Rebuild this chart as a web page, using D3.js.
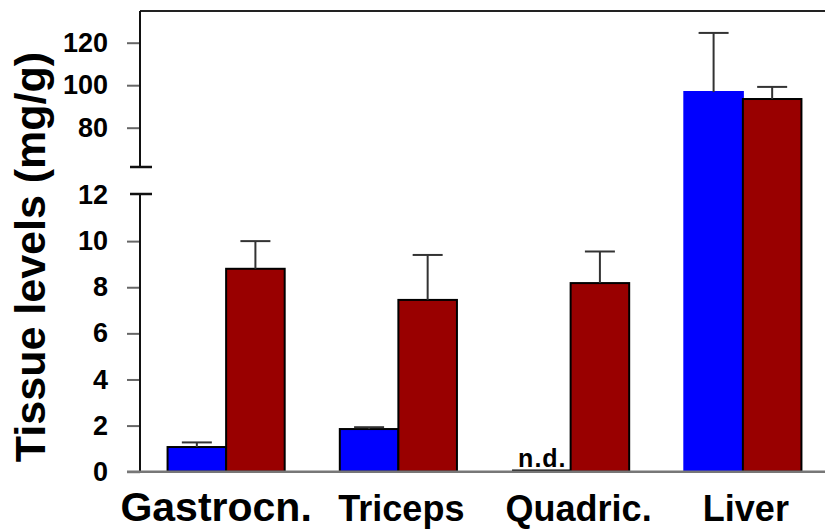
<!DOCTYPE html>
<html>
<head>
<meta charset="utf-8">
<script src="https://cdn.jsdelivr.net/npm/d3@7"></script>
<style>
  body { margin: 0; background: #fff; }
  svg { display: block; font-family: "Liberation Sans", Arial, sans-serif; }
</style>
</head>
<body>
<div id="chart"></div>
<script>
// tissue levels, two groups, broken y axis
const tissues = ['Gastrocn.', 'Triceps', 'Quadric.', 'Liver'];
const groups = ['blue', 'red'];
const blueMeans = [1.07, 1.85, 0, 96.8];
const blueErr = [0.2, 0.08, 0, 27.8];
const redMeans = [8.8, 7.45, 8.18, 93.5];
const redErr = [1.2, 1.95, 1.37, 5.7];
const lowerTicks = [0, 2, 4, 6, 8, 10, 12];
const upperTicks = [80, 100, 120];
const notDetected = [false, false, true, false];

document.addEventListener('DOMContentLoaded', function() {
  const width = 825;
  const height = 531;

  const svg = d3.select('#chart').append('svg')
    .attr('width', width)
    .attr('height', height);

  const axisX = 140;
  const color = { blue: '#0000ff', red: '#990000' };

  // x scales
  const x0 = d3.scaleBand()
    .domain(tissues)
    .range([axisX, 829])
    .paddingInner(0.32)
    .paddingOuter(0.16);

  const x1 = d3.scaleBand()
    .domain(groups)
    .range([0, x0.bandwidth()]);

  // y scales (lower and upper segment)
  const yLow = d3.scaleLinear().domain([0, 12]).range([471.7, 195]);
  const yHigh = d3.scaleLinear().domain([80, 120]).range([127.7, 42.7]);
  const y = v => v <= 12 ? yLow(v) : yHigh(v);

  const data = [];
  tissues.forEach((t, i) => {
    data.push({ tissue: t, key: 'blue', value: blueMeans[i], err: blueErr[i], nd: notDetected[i] });
    data.push({ tissue: t, key: 'red', value: redMeans[i], err: redErr[i], nd: false });
  });

  // top frame line
  svg.append('line')
    .attr('x1', axisX).attr('x2', width)
    .attr('y1', 11).attr('y2', 11)
    .attr('stroke', '#222').attr('stroke-width', 2);

  // lower axis
  const gLow = svg.append('g')
    .attr('transform', `translate(${axisX},0)`)
    .call(d3.axisLeft(yLow).tickValues(lowerTicks).tickSize(13).tickPadding(19));
  gLow.select('.domain').remove();
  gLow.selectAll('.tick line')
    .attr('stroke', '#666').attr('stroke-width', 2)
    .filter(d => d === 12).remove();

  // upper axis
  const gHigh = svg.append('g')
    .attr('transform', `translate(${axisX},0)`)
    .call(d3.axisLeft(yHigh).tickValues(upperTicks).tickSize(13).tickPadding(19));
  gHigh.select('.domain').remove();
  gHigh.selectAll('.tick line').attr('stroke', '#666').attr('stroke-width', 2);

  svg.selectAll('.tick text')
    .attr('font-size', '27px')
    .attr('font-weight', 'bold')
    .attr('fill', '#000')
    .attr('font-family', '"Liberation Sans", Arial, sans-serif');

  // axis lines
  svg.append('line')
    .attr('x1', axisX).attr('x2', axisX)
    .attr('y1', 11).attr('y2', 167)
    .attr('stroke', '#111').attr('stroke-width', 2);
  svg.append('line')
    .attr('x1', axisX).attr('x2', axisX)
    .attr('y1', 194).attr('y2', yLow(0))
    .attr('stroke', '#111').attr('stroke-width', 2);

  // break marks
  svg.selectAll('.break')
    .data([167, 194])
    .enter().append('line')
    .attr('class', 'break')
    .attr('x1', 130).attr('x2', 152)
    .attr('y1', d => d).attr('y2', d => d)
    .attr('stroke', '#111').attr('stroke-width', 2.5);

  // bars
  svg.append('g')
    .selectAll('rect')
    .data(data.filter(d => !d.nd))
    .enter().append('rect')
    .attr('x', d => x0(d.tissue) + x1(d.key))
    .attr('y', d => y(d.value))
    .attr('width', x1.bandwidth())
    .attr('height', d => yLow(0) - y(d.value))
    .attr('fill', d => color[d.key])
    .attr('stroke', d => d.value > 12 && d.key === 'blue' ? color.blue : '#000')
    .attr('stroke-width', 2);

  // n.d. marker: flat bar + label
  const nd = data.filter(d => d.nd);
  svg.selectAll('.nd-line')
    .data(nd)
    .enter().append('line')
    .attr('class', 'nd-line')
    .attr('x1', d => x0(d.tissue) + x1(d.key))
    .attr('x2', d => x0(d.tissue) + x1(d.key) + x1.bandwidth())
    .attr('y1', yLow(0) - 1).attr('y2', yLow(0) - 1)
    .attr('stroke', '#000').attr('stroke-width', 2.5);
  svg.selectAll('.nd-label')
    .data(nd)
    .enter().append('text')
    .attr('class', 'nd-label')
    .attr('x', d => x0(d.tissue) + x1(d.key) + x1.bandwidth() / 2 + 1)
    .attr('y', yLow(0) - 5)
    .attr('text-anchor', 'middle')
    .attr('font-size', '25px')
    .attr('font-weight', 'bold')
    .attr('letter-spacing', '1px')
    .text('n.d.');

  // baseline
  svg.append('line')
    .attr('x1', 127).attr('x2', width)
    .attr('y1', yLow(0)).attr('y2', yLow(0))
    .attr('stroke', '#777').attr('stroke-width', 2.5);

  // error bars
  const errs = data.filter(d => d.err > 0);
  const ex = d => x0(d.tissue) + x1(d.key) + x1.bandwidth() / 2;
  svg.selectAll('.err-stem')
    .data(errs)
    .enter().append('line')
    .attr('class', 'err-stem')
    .attr('x1', ex).attr('x2', ex)
    .attr('y1', d => y(d.value)).attr('y2', d => y(d.value + d.err))
    .attr('stroke', '#333').attr('stroke-width', 2);
  svg.selectAll('.err-cap')
    .data(errs)
    .enter().append('line')
    .attr('class', 'err-cap')
    .attr('x1', d => ex(d) - 15).attr('x2', d => ex(d) + 15)
    .attr('y1', d => y(d.value + d.err)).attr('y2', d => y(d.value + d.err))
    .attr('stroke', '#333').attr('stroke-width', 2);

  // x labels
  svg.selectAll('.x-label')
    .data(tissues)
    .enter().append('text')
    .attr('class', 'x-label')
    .attr('x', d => x0(d) + x0.bandwidth() / 2)
    .attr('dx', d => d === 'Gastrocn.' ? -10 : (d === 'Quadric.' ? 8 : 3))
    .attr('y', 521)
    .attr('text-anchor', 'middle')
    .attr('font-size', d => d === 'Gastrocn.' ? '41px' : '36px')
    .attr('font-weight', 'bold')
    .text(d => d);

  // y title
  svg.append('text')
    .attr('transform', 'rotate(-90)')
    .attr('x', -257)
    .attr('y', 45)
    .attr('text-anchor', 'middle')
    .attr('font-size', '43px')
    .attr('font-weight', 'bold')
    .text('Tissue levels (mg/g)');
});
</script>
</body>
</html>
